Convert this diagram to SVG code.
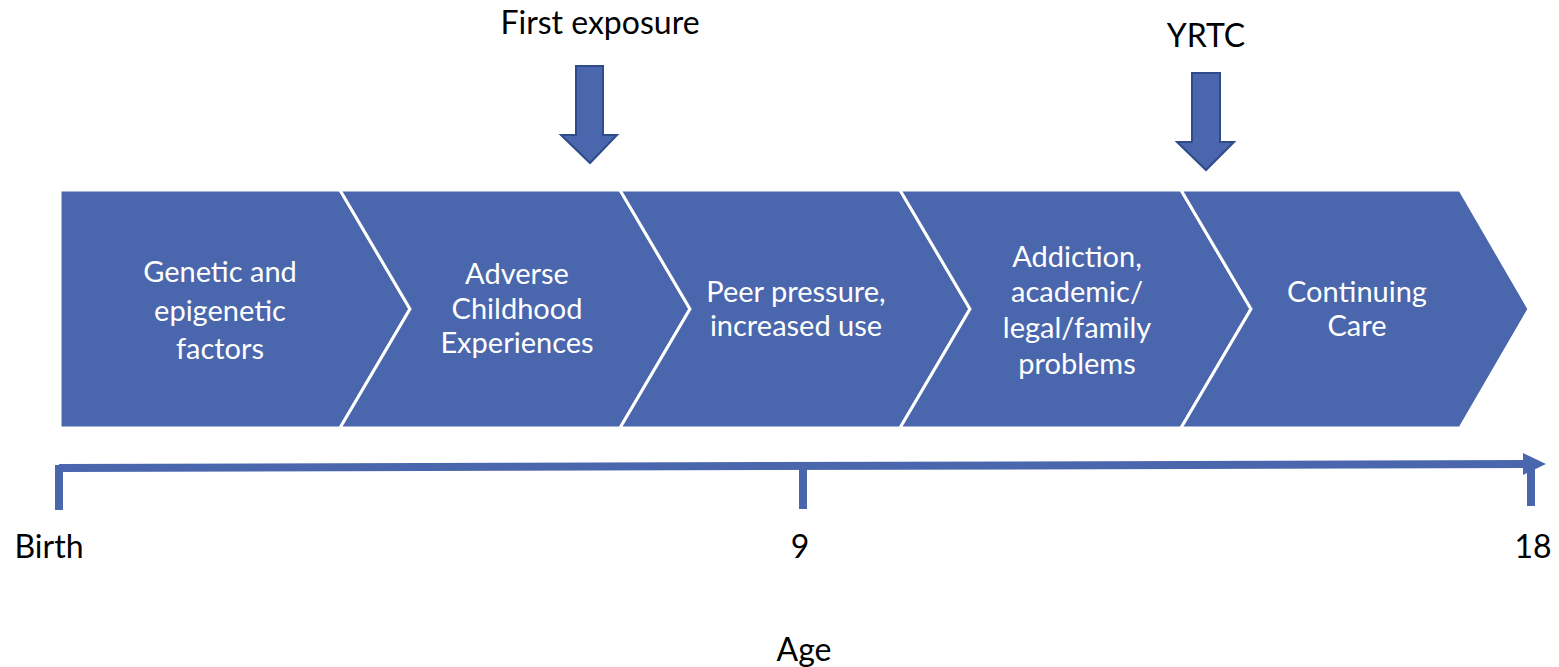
<svg xmlns="http://www.w3.org/2000/svg" width="1559" height="667" viewBox="0 0 1559 667">
<defs>
<style>
.chev{fill:#4A66AC;stroke:#FFFFFF;stroke-width:3;stroke-linejoin:miter}
.lbl{font-family:Lato,"Open Sans","Liberation Sans",sans-serif;font-size:29px;fill:#FFFFFF;text-anchor:middle}
.txt{font-family:Lato,"Open Sans","Liberation Sans",sans-serif;font-size:32px;fill:#000000;text-anchor:middle}
.down{fill:#4A66AC;stroke:#2F4B8A;stroke-width:2}
.axis{stroke:#4A66AC;stroke-width:8;fill:none}
</style>
</defs>
<rect width="1559" height="667" fill="#FFFFFF"/>
<g id="stage1">
<polygon class="chev" points="60,190 340,190 410,309 340,428 60,428"/>
<text class="lbl" x="220" y="282">Genetic and</text>
<text class="lbl" x="220" y="321">epigenetic</text>
<text class="lbl" x="220" y="359">factors</text>
</g>
<g id="stage2">
<polygon class="chev" points="340,190 620,190 690,309 620,428 340,428 410,309"/>
<text class="lbl" x="517" y="284">Adverse</text>
<text class="lbl" x="517" y="319">Childhood</text>
<text class="lbl" x="517" y="353">Experiences</text>
</g>
<g id="stage3">
<polygon class="chev" points="620,190 900,190 970,309 900,428 620,428 690,309"/>
<text class="lbl" x="796" y="302">Peer pressure,</text>
<text class="lbl" x="796" y="336">increased use</text>
</g>
<g id="stage4">
<polygon class="chev" points="900,190 1181,190 1251,309 1181,428 900,428 970,309"/>
<text class="lbl" x="1077" y="267">Addiction,</text>
<text class="lbl" x="1077" y="302">academic/</text>
<text class="lbl" x="1077" y="338">legal/family</text>
<text class="lbl" x="1077" y="374">problems</text>
</g>
<g id="stage5">
<polygon class="chev" points="1181,190 1460,190 1529,309 1460,428 1181,428 1251,309"/>
<text class="lbl" x="1357" y="302">Continuing</text>
<text class="lbl" x="1357" y="336">Care</text>
</g>
<g id="first-exposure">
<text class="txt" x="600" y="34">First exposure</text>
<polygon class="down" points="576,66 603,66 603,135 617,135 590,163 561,135 576,135"/>
</g>
<g id="yrtc">
<text class="txt" x="1206" y="47">YRTC</text>
<polygon class="down" points="1192,73 1220,73 1220,142 1234,142 1206,170 1177,142 1192,142"/>
</g>
<g id="connectors">
<line class="axis" x1="59" y1="468" x2="1525" y2="464"/>
<polygon fill="#4A66AC" points="1523,453 1546,464 1523,475"/>
<line class="axis" x1="59" y1="465" x2="59" y2="510"/>
<line class="axis" x1="803" y1="466" x2="803" y2="509"/>
<line class="axis" x1="1531" y1="464" x2="1531" y2="506"/>
</g>
<g id="labels">
<text class="txt" x="49" y="558">Birth</text>
<text class="txt" x="800" y="558">9</text>
<text class="txt" x="1533" y="558">18</text>
<text class="txt" x="804" y="661">Age</text>
</g>
</svg>
